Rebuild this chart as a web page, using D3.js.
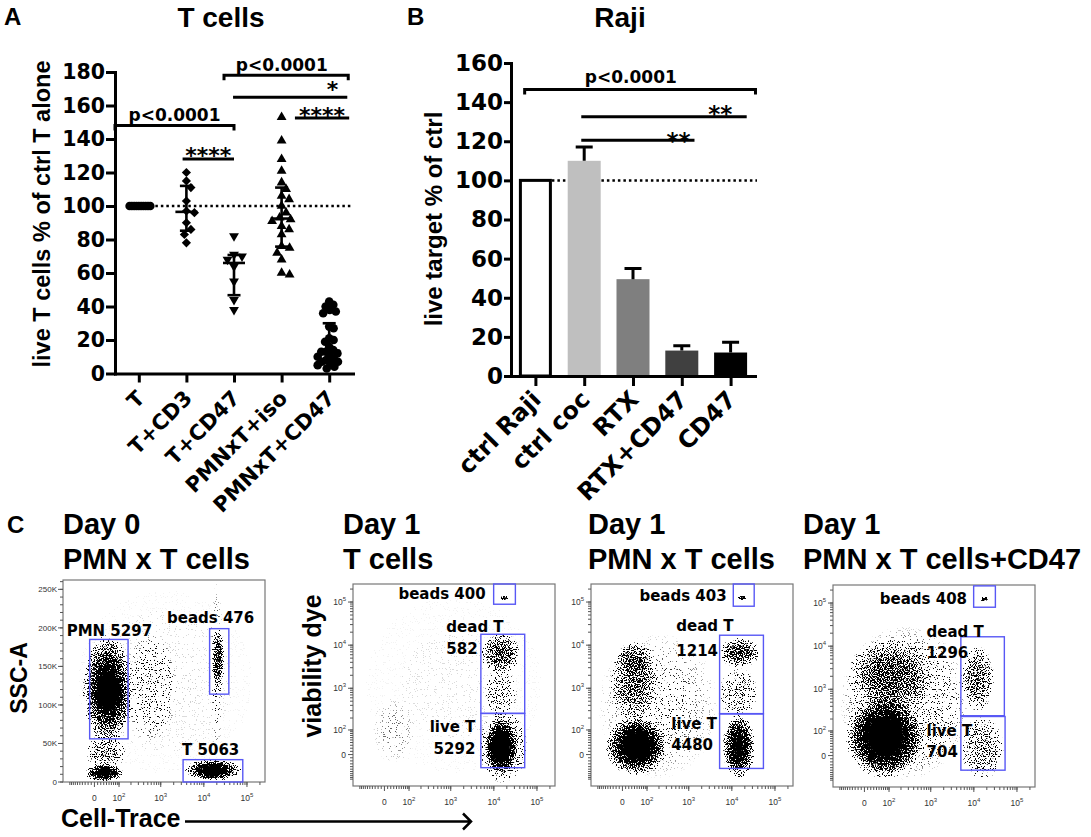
<!DOCTYPE html>
<html>
<head>
<meta charset="utf-8">
<script src="https://cdn.jsdelivr.net/npm/d3@7/dist/d3.min.js"></script>
<style>
  body { margin: 0; background: #fff; }
</style>
</head>
<body>
<svg id="fig" width="1091" height="837"></svg>
<script>
// ---------- data: panel A (T cells, % of ctrl T alone) ----------
var tCats = ["T", "T+CD3", "T+CD47", "PMNxT+iso", "PMNxT+CD47"];
var tAlone = [100, 100, 100, 100, 100, 100, 100, 100, 100, 100];
var tCD3 = [120, 115, 111, 103, 97, 96, 90, 86, 83, 78];
var tCD47 = [82, 71, 70, 68, 64, 55, 44, 38];
var pmnIso = [153, 139, 128, 121, 114, 110, 106, 104, 100, 96, 93, 92, 91, 88, 86, 83, 76, 75, 72, 68, 60, 59];
var pmnCD47 = [43, 41, 40, 38, 37, 36, 28, 27, 21, 20, 19, 16, 14, 13, 13, 12, 11, 10, 9, 8, 7, 7, 6, 5, 4, 3];
var tTicks = [0, 20, 40, 60, 80, 100, 120, 140, 160, 180];
// significance bars: category index span, height in % units
var sigA = [
  { from: -0.5, to: 2, at: 148, text: "p<0.0001", cap: true },
  { from: 0.92, to: 2, at: 128, text: "****", cap: false },
  { from: 1.79, to: 4.4, at: 178, text: "p<0.0001", cap: true },
  { from: 1.98, to: 4.38, at: 165, text: "*", cap: false },
  { from: 3.28, to: 4.42, at: 152.6, text: "****", cap: false }
];

// ---------- data: panel B (Raji, live target % of ctrl) ----------
var rajiCats = ["ctrl Raji", "ctrl coc", "RTX", "RTX+CD47", "CD47"];
var rajiMean = [100, 110, 49.5, 13, 12];
var rajiErr = [0, 7, 5.5, 2.5, 5.3];
var rajiTicks = [0, 20, 40, 60, 80, 100, 120, 140, 160];
var sigB = [
  { from: -0.22, to: 4.51, at: 146.5, text: "p<0.0001", cap: true },
  { from: 0.94, to: 4.33, at: 132.5, text: "**", cap: false },
  { from: 0.94, to: 3.26, at: 120.5, text: "**", cap: false }
];

// ---------- data: panel C (flow plots) ----------
var flowTitles = [["Day 0", "PMN x T cells"], ["Day 1", "T cells"], ["Day 1", "PMN x T cells"], ["Day 1", "PMN x T cells+CD47"]];
var logMajor = [0, 100, 1000, 10000, 100000];
var logMajorExp = ["", "2", "3", "4", "5"];
var sscMajor = [0, 50000, 100000, 150000, 200000, 250000];
var sscLabels = ["0", "50K", "100K", "150K", "200K", "250K"];
var gates = [
  { plot: 0, name: "PMN", x: [-15, 170], y: [56000, 185000], count: 5297 },
  { plot: 0, name: "beads", x: [13600, 38000], y: [114000, 199000], count: 476 },
  { plot: 0, name: "T", x: [3300, 80000], y: [0, 29000], count: 5063 },
  { plot: 1, name: "beads", x: [9900, 31600], y: [89000, 262144], count: 400 },
  { plot: 1, name: "dead T", x: [5000, 52000], y: [258, 17900], count: 582 },
  { plot: 1, name: "live T", x: [5000, 52000], y: [-44, 258], count: 5292 },
  { plot: 2, name: "beads", x: [10800, 33000], y: [80000, 262144], count: 403 },
  { plot: 2, name: "dead T", x: [5200, 54000], y: [255, 17000], count: 1214 },
  { plot: 2, name: "live T", x: [5200, 54000], y: [-47, 250], count: 4480 },
  { plot: 3, name: "beads", x: [9900, 31600], y: [80000, 250000], count: 408 },
  { plot: 3, name: "dead T", x: [5000, 51000], y: [240, 16500], count: 1296 },
  { plot: 3, name: "live T", x: [5000, 53000], y: [-50, 230], count: 704 }
];
// event clouds: extent in axis units and relative event density
var clouds = [
  { plot: 0, x: [-40, 230], y: [48000, 192000], d: 0.85 },
  { plot: 0, x: [-5, 130], y: [85000, 150000], d: 0.75 },
  { plot: 0, x: [-30, 130], y: [0, 24000], d: 0.95 },
  { plot: 0, x: [-30, 150], y: [15000, 62000], d: 0.35 },
  { plot: 0, x: [3600, 77000], y: [1000, 30000], d: 0.9 },
  { plot: 0, x: [8000, 30000], y: [5000, 22000], d: 0.7 },
  { plot: 0, x: [15000, 30000], y: [115000, 200000], d: 0.6 },
  { plot: 0, x: [14000, 28000], y: [30000, 262000], d: 0.07 },
  { plot: 0, x: [130, 2500], y: [50000, 195000], d: 0.13 },
  { plot: 0, x: [-100, 200000], y: [0, 260000], d: 0.012 },
  { plot: 1, x: [6000, 35000], y: [-80, 200], d: 1 },
  { plot: 1, x: [4500, 60000], y: [-130, 320], d: 0.35 },
  { plot: 1, x: [5000, 40000], y: [2000, 20000], d: 0.55 },
  { plot: 1, x: [6000, 35000], y: [200, 3000], d: 0.22 },
  { plot: 1, x: [-40, 150], y: [-30, 600], d: 0.04 },
  { plot: 1, x: [14000, 22000], y: [110000, 140000], d: 0.9 },
  { plot: 1, x: [-150, 260000], y: [-150, 260000], d: 0.008 },
  { plot: 2, x: [-60, 320], y: [-80, 220], d: 1 },
  { plot: 2, x: [-40, 200], y: [150, 12000], d: 0.45 },
  { plot: 2, x: [-20, 150], y: [2000, 12000], d: 0.35 },
  { plot: 2, x: [-100, 5000], y: [-100, 20000], d: 0.07 },
  { plot: 2, x: [6000, 35000], y: [-100, 250], d: 0.9 },
  { plot: 2, x: [5000, 45000], y: [3000, 15000], d: 0.6 },
  { plot: 2, x: [5000, 40000], y: [200, 3000], d: 0.25 },
  { plot: 2, x: [14000, 22000], y: [110000, 140000], d: 0.9 },
  { plot: 3, x: [-70, 700], y: [-90, 700], d: 1 },
  { plot: 3, x: [-60, 1200], y: [300, 15000], d: 0.5 },
  { plot: 3, x: [-100, 8000], y: [-100, 30000], d: 0.14 },
  { plot: 3, x: [5000, 30000], y: [300, 10000], d: 0.45 },
  { plot: 3, x: [5000, 50000], y: [-100, 230], d: 0.35 },
  { plot: 3, x: [14000, 22000], y: [110000, 140000], d: 0.9 }
];

// ---------- layout / style ----------
var SANS = '"Liberation Sans", Arial, Helvetica, sans-serif';
var WIDE = '"DejaVu Sans", Verdana, sans-serif';
var tShapes = [d3.symbolCircle, d3.symbolSquare, d3.symbolTriangle, d3.symbolTriangle, d3.symbolCircle];
var tSizes = [58, 42, 42, 42, 58];
var tRotate = [0, 45, 180, 0, 0];
var sigALayout = [{ frac: 0.5, dy: -4.5 }, { frac: 0.5, dy: 4 }, { frac: 0.465, dy: -4.5 }, { frac: 0.87, dy: 0 }, { frac: 0.5, dy: 5 }];
var sigBLayout = [{ frac: 0.46, dy: -6 }, { frac: 0.84, dy: 5 }, { frac: 0.86, dy: 8.5 }];
var barFills = ["#ffffff", "#bfbfbf", "#7f7f7f", "#404040", "#000000"];
var FW = 202, FH = 202;
var frames = [{ L: 63, T: 580 }, { L: 353, T: 584 }, { L: 591, T: 584 }, { L: 833, T: 585 }];
var titleX = [63, 343, 588, 803];
var gateLabelLayout = [
  { dx: -23, dy: [-3.4], anchor: "start" },
  { dx: -42.6, dy: [-5.7], anchor: "start" },
  { dx: -1, dy: [-4.7], anchor: "start" },
  { dx: -8, dy: [14.6], anchor: "end" },
  { dx: -34.5, dy: [-2.3, 19.3], anchor: "start" },
  { dx: -5.5, dy: [19, 40.6], anchor: "end" },
  { dx: -6.6, dy: [16.7], anchor: "end" },
  { dx: -43.3, dy: [-4.3, 20.7], anchor: "start" },
  { dx: -48.3, dy: [15, 35.7], anchor: "start" },
  { dx: -6.6, dy: [18.3], anchor: "end" },
  { dx: -34.3, dy: [0.4, 21], anchor: "start" },
  { dx: -34.3, dy: [19.4, 40], anchor: "start" }
];

var svg = d3.select("#fig");
var defs = svg.append("defs");

function boldText(g, txt, x, y, size, family, anchor) {
  return g.append("text").attr("x", x).attr("y", y).attr("font-family", family)
    .attr("font-weight", "bold").attr("font-size", size)
    .attr("text-anchor", anchor || "start").attr("fill", "#000").text(txt);
}

function styleAxis(g, size) {
  g.select(".domain").attr("stroke-width", 3).attr("stroke-linecap", "square");
  g.selectAll(".tick line").attr("stroke-width", 3);
  g.selectAll(".tick text").attr("font-family", WIDE).attr("font-weight", "bold")
    .attr("font-size", size).attr("fill", "#000");
}

// GraphPad style quantile (n+1 positions)
function gpQuantile(vals, p) {
  var s = vals.slice().sort(d3.ascending), n = s.length, pos = p * (n + 1);
  if (pos <= 1) return s[0];
  if (pos >= n) return s[n - 1];
  var lo = Math.floor(pos);
  return s[lo - 1] + (pos - lo) * (s[lo] - s[lo - 1]);
}

// simple beeswarm so that overlapping points spread sideways
function swarm(vals, y, r, maxOff) {
  var pts = vals.map(function (v) { return { v: v, py: y(v), off: 0 }; })
    .sort(function (a, b) { return a.py - b.py; });
  var placed = [];
  pts.forEach(function (p) {
    for (var k = 0; k < 400; k++) {
      var c = (k % 2 ? 1 : -1) * Math.ceil(k / 2) * 0.5;
      var ok = placed.every(function (q) { return Math.hypot(q.off - c, q.py - p.py) >= r * 1.8; });
      if (ok) { p.off = c; break; }
    }
    placed.push(p);
  });
  var m = d3.max(placed, function (d) { return Math.abs(d.off); });
  if (m > maxOff) placed.forEach(function (d) { d.off *= maxOff / m; });
  return placed;
}

function drawSig(g, list, layout, idx, y, pFont, sFont) {
  list.forEach(function (s, i) {
    var x1 = idx(s.from), x2 = idx(s.to), yy = y(s.at);
    var d = s.cap ? "M" + x1 + "," + (yy + 5) + "V" + yy + "H" + x2 + "V" + (yy + 5) : "M" + x1 + "," + yy + "H" + x2;
    g.append("path").attr("d", d).attr("fill", "none").attr("stroke", "#000").attr("stroke-width", 3);
    var isStar = s.text.indexOf("*") === 0;
    boldText(g, s.text, x1 + layout[i].frac * (x2 - x1), yy + layout[i].dy, isStar ? sFont : pFont, WIDE, "middle");
  });
}

// ================= panel A =================
var gA = svg.append("g");
var yA = d3.scaleLinear().domain([0, 180]).range([373.5, 72]);
var xA = d3.scalePoint().domain(tCats).range([115, 353]).padding(0.5);
var iA = d3.scaleLinear().domain([0, 4]).range([xA(tCats[0]), xA(tCats[4])]);
var tGroups = [tAlone, tCD3, tCD47, pmnIso, pmnCD47];

boldText(gA, "A", 4, 25, 24, SANS);
boldText(gA, "T cells", 221, 27, 28, SANS, "middle");
boldText(gA, "live T cells % of ctrl T alone", 0, 0, 23.5, SANS, "middle")
  .attr("transform", "translate(50,214) rotate(-90)");

gA.append("line").attr("x1", iA(-0.23)).attr("x2", 353).attr("y1", yA(100)).attr("y2", yA(100))
  .attr("stroke", "#000").attr("stroke-width", 2.5).attr("stroke-dasharray", "2.5,3");

drawSig(gA, sigA, sigALayout, iA, yA, 17, 22);

tGroups.forEach(function (vals, i) {
  var cx = xA(tCats[i]);
  var pts = swarm(vals, yA, 4.4, 11.5);
  var sym = d3.symbol().type(tShapes[i]).size(tSizes[i]);
  gA.selectAll(null).data(pts).enter().append("path")
    .attr("d", sym)
    .attr("transform", function (d) { return "translate(" + (cx + d.off) + "," + d.py + ") rotate(" + tRotate[i] + ")"; })
    .attr("fill", "#000");
  var med = gpQuantile(vals, 0.5), q1 = gpQuantile(vals, 0.25), q3 = gpQuantile(vals, 0.75);
  function ln(a, b, c, e) {
    gA.append("line").attr("x1", a).attr("y1", b).attr("x2", c).attr("y2", e)
      .attr("stroke", "#000").attr("stroke-width", 2.6);
  }
  ln(cx - 11, yA(med), cx + 11, yA(med));
  ln(cx, yA(q1), cx, yA(q3));
  ln(cx - 6.5, yA(q1), cx + 6.5, yA(q1));
  ln(cx - 6.5, yA(q3), cx + 6.5, yA(q3));
});

var axYA = gA.append("g").attr("transform", "translate(115,0)")
  .call(d3.axisLeft(yA).tickValues(tTicks).tickSize(9).tickPadding(1).tickSizeOuter(0));
styleAxis(axYA, 20.5);
var axXA = gA.append("g").attr("transform", "translate(0,373.5)")
  .call(d3.axisBottom(xA).tickSize(9).tickSizeOuter(0).tickFormat(""));
styleAxis(axXA, 20);
tCats.forEach(function (c) {
  boldText(gA, c, 0, 0, 21, WIDE, "end")
    .attr("transform", "translate(" + (xA(c) + 7) + "," + (373.5 + 26) + ") rotate(-45)");
});

// ================= panel B =================
var gB = svg.append("g");
var yB = d3.scaleLinear().domain([0, 160]).range([376, 63]);
var xB = d3.scalePoint().domain(rajiCats).range([511, 755]).padding(0.5);
var iB = d3.scaleLinear().domain([0, 4]).range([xB(rajiCats[0]), xB(rajiCats[4])]);
var bw = 33;

boldText(gB, "B", 407, 25, 24, SANS);
boldText(gB, "Raji", 620, 27, 28, SANS, "middle");
boldText(gB, "live target % of ctrl", 0, 0, 24, SANS, "middle")
  .attr("transform", "translate(442,219) rotate(-90)");

gB.append("line").attr("x1", xB(rajiCats[0]) + bw / 2).attr("x2", 757).attr("y1", yB(100)).attr("y2", yB(100))
  .attr("stroke", "#000").attr("stroke-width", 2.5).attr("stroke-dasharray", "2.5,3");

rajiCats.forEach(function (c, i) {
  var cx = xB(c), stroked = i === 0;
  gB.append("rect")
    .attr("x", cx - bw / 2 + (stroked ? 1.5 : 0)).attr("width", bw - (stroked ? 3 : 0))
    .attr("y", yB(rajiMean[i])).attr("height", yB(0) - yB(rajiMean[i]))
    .attr("fill", barFills[i]).attr("stroke", stroked ? "#000" : "none").attr("stroke-width", 3);
  if (rajiErr[i] > 0) {
    var top = yB(rajiMean[i] + rajiErr[i]);
    gB.append("path").attr("d", "M" + cx + "," + yB(rajiMean[i]) + "V" + top + "M" + (cx - 8.5) + "," + top + "H" + (cx + 8.5))
      .attr("stroke", "#000").attr("stroke-width", 3).attr("fill", "none");
  }
});

drawSig(gB, sigB, sigBLayout, iB, yB, 17, 23);

var axYB = gB.append("g").attr("transform", "translate(511,0)")
  .call(d3.axisLeft(yB).tickValues(rajiTicks).tickSize(7).tickPadding(1).tickSizeOuter(0));
styleAxis(axYB, 23);
var axXB = gB.append("g").attr("transform", "translate(0,376)")
  .call(d3.axisBottom(xB).tickSize(10).tickSizeOuter(0).tickFormat(""));
styleAxis(axXB, 23);
rajiCats.forEach(function (c) {
  boldText(gB, c, 0, 0, 24, WIDE, "end")
    .attr("transform", "translate(" + (xB(c) + 7) + "," + (376 + 25) + ") rotate(-45)");
});

// ================= panel C =================
var gC = svg.append("g");
boldText(gC, "C", 7, 533, 24, SANS);
flowTitles.forEach(function (t, k) {
  boldText(gC, t[0], titleX[k], 534, 29, SANS);
  boldText(gC, t[1], titleX[k], 568.5, 29, SANS);
});
boldText(gC, "SSC-A", 0, 0, 23, SANS, "middle").attr("transform", "translate(27,678) rotate(-90)");
boldText(gC, "viability dye", 0, 0, 25, SANS, "middle").attr("transform", "translate(321,666) rotate(-90)");
boldText(gC, "Cell-Trace", 61, 827, 25, SANS);
gC.append("path").attr("d", "M185,821.5H471M463,813.5L471,821.5L463,829.5")
  .attr("stroke", "#000").attr("stroke-width", 2.5).attr("fill", "none");

// speckle filter: turns a density field into scattered events
var filt = defs.append("filter").attr("id", "speckle").attr("filterUnits", "userSpaceOnUse")
  .attr("x", 0).attr("y", 0).attr("width", 1091).attr("height", 837)
  .attr("color-interpolation-filters", "sRGB");
filt.append("feTurbulence").attr("type", "fractalNoise").attr("baseFrequency", 0.85)
  .attr("numOctaves", 1).attr("seed", 7).attr("result", "noise");
filt.append("feColorMatrix").attr("in", "noise").attr("type", "matrix")
  .attr("values", "0 0 0 0 0  0 0 0 0 0  0 0 0 0 0  3 0 0 0 -1").attr("result", "n");
filt.append("feComposite").attr("in", "SourceAlpha").attr("in2", "n").attr("operator", "arithmetic")
  .attr("k1", 0).attr("k2", 1.3).attr("k3", -1).attr("k4", 0).attr("result", "diff");
filt.append("feComponentTransfer").attr("in", "diff")
  .append("feFuncA").attr("type", "linear").attr("slope", 12).attr("intercept", 0);

var blob = defs.append("radialGradient").attr("id", "blob");
[[0, 1], [0.5, 0.78], [0.8, 0.38], [1, 0]].forEach(function (s) {
  blob.append("stop").attr("offset", s[0]).attr("stop-color", "#000").attr("stop-opacity", s[1]);
});

function asinhT(v) { return Math.asinh(v / 58); }

frames.forEach(function (f, k) {
  var xl = d3.scaleLinear().domain([asinhT(-150), asinhT(262144)]).range([f.L, f.L + FW]);
  var xs = function (v) { return xl(asinhT(v)); };
  var ys;
  if (k === 0) {
    var yl0 = d3.scaleLinear().domain([0, 262144]).range([f.T + FH, f.T]);
    ys = function (v) { return yl0(v); };
  } else {
    var yl = d3.scaleLinear().domain([asinhT(-150), asinhT(262144)]).range([f.T + FH, f.T]);
    ys = function (v) { return yl(asinhT(v)); };
  }
  var B = f.T + FH;

  defs.append("clipPath").attr("id", "clip" + k).append("rect")
    .attr("x", f.L).attr("y", f.T).attr("width", FW).attr("height", FH);
  var cloudG = gC.append("g").attr("clip-path", "url(#clip" + k + ")")
    .append("g").attr("filter", "url(#speckle)");
  cloudG.selectAll(null).data(clouds.filter(function (c) { return c.plot === k; })).enter()
    .append("ellipse")
    .attr("cx", function (c) { return (xs(c.x[0]) + xs(c.x[1])) / 2; })
    .attr("cy", function (c) { return (ys(c.y[0]) + ys(c.y[1])) / 2; })
    .attr("rx", function (c) { return Math.abs(xs(c.x[1]) - xs(c.x[0])) / 2; })
    .attr("ry", function (c) { return Math.abs(ys(c.y[1]) - ys(c.y[0])) / 2; })
    .attr("fill", "url(#blob)").attr("fill-opacity", function (c) { return c.d; });

  gC.append("rect").attr("x", f.L).attr("y", f.T).attr("width", FW).attr("height", FH)
    .attr("fill", "none").attr("stroke", "#777").attr("stroke-width", 1.2);

  // ticks
  var tg = gC.append("g").attr("stroke", "#555").attr("stroke-width", 1);
  var minor = [];
  [10, 100, 1000, 10000, 100000].forEach(function (dec) {
    for (var m = 1; m < 10; m++) {
      if (m * dec <= 262144) minor.push(m * dec);
      if (-m * dec >= -150) minor.push(-m * dec);
    }
  });
  minor.forEach(function (v) {
    tg.append("line").attr("x1", xs(v)).attr("x2", xs(v)).attr("y1", B).attr("y2", B + 3);
  });
  logMajor.forEach(function (v, i) {
    tg.append("line").attr("x1", xs(v)).attr("x2", xs(v)).attr("y1", B).attr("y2", B + 5);
    var t = gC.append("text").attr("x", xs(v)).attr("y", B + 19).attr("text-anchor", "middle")
      .attr("font-family", SANS).attr("font-size", 8.5).attr("fill", "#333");
    if (v === 0) t.text("0");
    else { t.text("10"); t.append("tspan").attr("dy", -4).attr("font-size", 6).text(logMajorExp[i]); }
  });
  if (k === 0) {
    d3.range(0, 262144, 10000).forEach(function (v) {
      tg.append("line").attr("x1", f.L - 3).attr("x2", f.L).attr("y1", ys(v)).attr("y2", ys(v));
    });
    sscMajor.forEach(function (v, i) {
      tg.append("line").attr("x1", f.L - 5).attr("x2", f.L).attr("y1", ys(v)).attr("y2", ys(v));
      gC.append("text").attr("x", f.L - 6).attr("y", ys(v) + 3).attr("text-anchor", "end")
        .attr("font-family", SANS).attr("font-size", 8).attr("fill", "#333").text(sscLabels[i]);
    });
  } else {
    minor.forEach(function (v) {
      tg.append("line").attr("x1", f.L - 3).attr("x2", f.L).attr("y1", ys(v)).attr("y2", ys(v));
    });
    logMajor.forEach(function (v, i) {
      tg.append("line").attr("x1", f.L - 5).attr("x2", f.L).attr("y1", ys(v)).attr("y2", ys(v));
      var t = gC.append("text").attr("x", f.L - 7).attr("y", ys(v) + 3).attr("text-anchor", "end")
        .attr("font-family", SANS).attr("font-size", 8.5).attr("fill", "#333");
      if (v === 0) t.text("0");
      else { t.text("10"); t.append("tspan").attr("dy", -4).attr("font-size", 6).text(logMajorExp[i]); }
    });
  }

  // gates and their labels
  gates.forEach(function (g, gi) {
    if (g.plot !== k) return;
    var gx = xs(g.x[0]), gy = ys(g.y[1]);
    gC.append("rect").attr("x", gx).attr("y", gy)
      .attr("width", xs(g.x[1]) - gx).attr("height", ys(g.y[0]) - gy)
      .attr("fill", "none").attr("stroke", "#5858f5").attr("stroke-width", 1.4);
    var lay = gateLabelLayout[gi];
    var lines = lay.dy.length === 1 ? [g.name + " " + g.count] : [g.name, String(g.count)];
    lines.forEach(function (txt, li) {
      boldText(gC, txt, gx + lay.dx, gy + lay.dy[li], 15, WIDE, lay.anchor);
    });
  });
});
</script>
</body>
</html>
